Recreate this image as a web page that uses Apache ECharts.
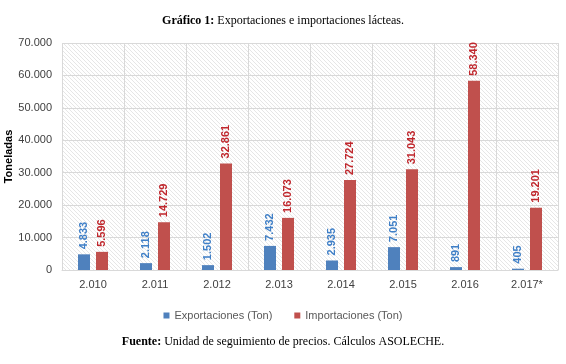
<!DOCTYPE html>
<html><head><meta charset="utf-8">
<script src="https://cdn.jsdelivr.net/npm/echarts@6/dist/echarts.min.js"></script>
<style>html,body{margin:0;padding:0;background:#fff}#c{width:566px;height:364px}</style>
</head><body><div id="c"></div>
<script>
const categories = ['2.010','2.011','2.012','2.013','2.014','2.015','2.016','2.017*'];
const exportaciones = [4833, 2118, 1502, 7432, 2935, 7051, 891, 405];
const importaciones = [5596, 14729, 32861, 16073, 27724, 31043, 58340, 19201];
const yTicks = [0, 10000, 20000, 30000, 40000, 50000, 60000, 70000];

function fmt(v){ return String(v).replace(/\B(?=(\d{3})+(?!\d))/g, '.'); }

const pc = document.createElement('canvas');
pc.width = 4; pc.height = 4;
const ctx = pc.getContext('2d');
ctx.fillStyle = '#ffffff'; ctx.fillRect(0,0,4,4);
ctx.strokeStyle = '#e6e6e6'; ctx.lineWidth = 1;
ctx.beginPath(); ctx.moveTo(-1,-1); ctx.lineTo(5,5); ctx.stroke();

const chart = echarts.init(document.getElementById('c'), null, {renderer:'canvas'});
const sans = 'Liberation Sans';
chart.setOption({
  animation: false,
  title: [{
    text: '{b|Gráfico 1:} Exportaciones e importaciones lácteas.',
    left: 'center', top: 10,
    textStyle: {fontFamily:'Liberation Serif', fontSize: 12, fontWeight:'normal', color:'#000',
      rich: {b:{fontFamily:'Liberation Serif', fontSize:12, fontWeight:'bold', color:'#000'}}}
  },{
    text: '{b|Fuente:} Unidad de seguimiento de precios. Cálculos ASOLECHE.',
    left: 'center', top: 331,
    textStyle: {fontFamily:'Liberation Serif', fontSize: 12, fontWeight:'normal', color:'#000',
      rich: {b:{fontFamily:'Liberation Serif', fontSize:12, fontWeight:'bold', color:'#000'}}}
  }],
  legend: {
    top: 305, left: 'center', itemWidth: 6, itemHeight: 6, icon: 'rect', itemGap: 22,
    textStyle: {fontFamily: sans, fontSize: 11, color:'#595959'},
    data: ['Exportaciones (Ton)','Importaciones (Ton)']
  },
  grid: {left: 62, right: 8, top: 43, bottom: 94, show: true, borderWidth: 0,
    containLabel: false, outerBoundsMode: 'none',
    backgroundColor: {image: pc, repeat: 'repeat'}},
  xAxis: {
    type: 'category', data: categories,
    axisLine: {lineStyle:{color:'#d9d9d9'}}, axisTick: {show:false},
    splitLine: {show:true, lineStyle:{color:'#d9d9d9'}},
    axisLabel: {fontFamily: sans, fontSize: 11, color:'#404040', margin: 9}
  },
  yAxis: {
    type: 'value', min: 0, max: 70000, interval: 10000,
    name: 'Toneladas', nameLocation: 'middle', nameGap: 48, nameRotate: 90,
    nameMoveOverlap: false,
    nameTextStyle: {fontFamily: sans, fontSize: 11, fontWeight:'bold', color:'#000'},
    axisLine: {show:false}, axisTick: {show:false},
    splitLine: {lineStyle:{color:'#d9d9d9'}},
    axisLabel: {fontFamily: sans, fontSize: 11, color:'#404040', margin: 10,
      formatter: v => yTicks.includes(v) ? fmt(v) : ''}
  },
  series: [{
    name: 'Exportaciones (Ton)', type: 'bar', data: exportaciones,
    barWidth: 12, barGap: '50%',
    itemStyle: {color:'#4F81BD'},
    label: {show:true, position:'top', rotate:90, align:'left', verticalAlign:'middle', distance: 5,
      formatter: p => fmt(p.value), fontFamily: sans, fontSize: 11, fontWeight:'bold', color:'#3F7FC7'}
  },{
    name: 'Importaciones (Ton)', type: 'bar', data: importaciones,
    barWidth: 12,
    itemStyle: {color:'#C0504D'},
    label: {show:true, position:'top', rotate:90, align:'left', verticalAlign:'middle', distance: 5,
      formatter: p => fmt(p.value), fontFamily: sans, fontSize: 11, fontWeight:'bold', color:'#C0272D'}
  }]
});
</script></body></html>
